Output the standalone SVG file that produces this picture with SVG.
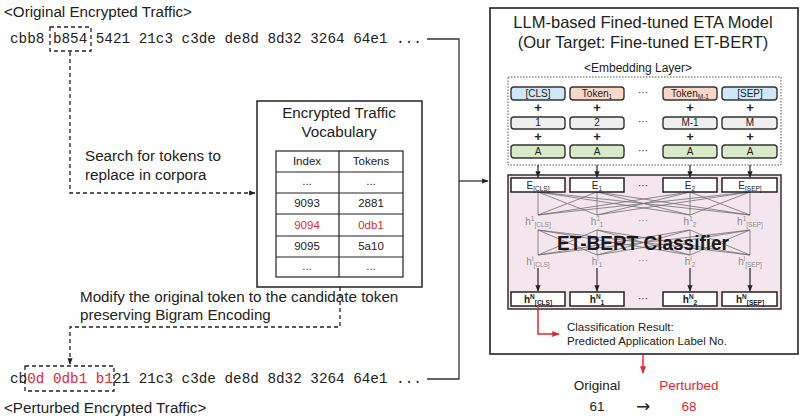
<svg xmlns="http://www.w3.org/2000/svg" width="800" height="420" viewBox="0 0 800 420">
<defs>
<style>
text{font-family:"Liberation Sans",Arial,sans-serif;fill:#222}
.mono{font-family:"Liberation Mono","Courier New",monospace;font-size:14.3px}
.lbl{font-size:15.2px}
.t11{font-size:11.5px}
.t10{font-size:10px}
.mid{text-anchor:middle}
.red{fill:#e02a36}
.box{fill:#fff;stroke:#222;stroke-width:1.5}
.emb{stroke:#333;stroke-width:1.4}
.blue{fill:#cfe8f5}.peach{fill:#f9d8c8}.gray{fill:#efefef}.green{fill:#d8eac8}
.dash{fill:none;stroke:#222;stroke-width:1.3;stroke-dasharray:4 3}
.solid{fill:none;stroke:#333;stroke-width:1.3}
.mesh{stroke:#6e6e6e;stroke-width:0.8}
.hl{fill:#8a8a8a;font-size:10px}
</style>
<marker id="ah" viewBox="0 0 10 10" refX="9" refY="5" markerWidth="5" markerHeight="5" orient="auto"><path d="M0,1 L10,5 L0,9 z" fill="#222"/></marker>
<marker id="ahr" viewBox="0 0 10 10" refX="9" refY="5" markerWidth="5" markerHeight="5" orient="auto"><path d="M0,1 L10,5 L0,9 z" fill="#e02a36"/></marker>
</defs>
<rect width="800" height="420" fill="#fff"/>

<g id="original-traffic">
<text x="4" y="17" class="lbl">&lt;Original Encrypted Traffic&gt;</text>
<text x="10" y="43" class="mono">cbb8 b854 5421 21c3 c3de de8d 8d32 3264 64e1 ...</text>
<rect x="50" y="27" width="41" height="24" class="dash"/>
</g>

<g id="perturbed-traffic">
<text x="10" y="383" class="mono">cb<tspan class="red">0d 0db1 b1</tspan>21 21c3 c3de de8d 8d32 3264 64e1 ...</text>
<rect x="25" y="366" width="89" height="25" class="dash"/>
<text x="4" y="413" class="lbl">&lt;Perturbed Encrypted Traffic&gt;</text>
</g>

<g id="vocabulary">
<rect x="257" y="101" width="165" height="186" class="box"/>
<text x="339" y="118" class="lbl mid">Encrypted Traffic</text>
<text x="339" y="137" class="lbl mid">Vocabulary</text>
<g fill="none" stroke="#222" stroke-width="1.2">
<rect x="276" y="151" width="127" height="126"/>
<line x1="339" y1="151" x2="339" y2="277"/>
<line x1="276" y1="172" x2="403" y2="172"/>
<line x1="276" y1="193" x2="403" y2="193"/>
<line x1="276" y1="214" x2="403" y2="214"/>
<line x1="276" y1="236" x2="403" y2="236"/>
<line x1="276" y1="257" x2="403" y2="257"/>
</g>
<g class="t11 mid">
<text x="307" y="165">Index</text><text x="371" y="165">Tokens</text>
<text x="307" y="185">...</text><text x="371" y="185">...</text>
<text x="307" y="207">9093</text><text x="371" y="207">2881</text>
<text x="307" y="229" class="red">9094</text><text x="371" y="229" class="red">0db1</text>
<text x="307" y="250">9095</text><text x="371" y="250">5a10</text>
<text x="307" y="270">...</text><text x="371" y="270">...</text>
</g>
</g>

<g id="search-label">
<text x="85" y="161" class="lbl">Search for tokens to</text>
<text x="85" y="180" class="lbl">replace in corpora</text>
</g>
<g id="modify-label">
<text x="80" y="302" class="lbl">Modify the original token to the candidate token</text>
<text x="80" y="320" class="lbl">preserving Bigram Encoding</text>
</g>

<g id="llm-model">
<rect x="490" y="8" width="308" height="346" fill="#fff" stroke="#222" stroke-width="1.6"/>
<text x="643" y="28" class="mid" style="font-size:16.5px">LLM-based Fined-tuned ETA Model</text>
<text x="643" y="48" class="mid" style="font-size:16.5px">(Our Target: Fine-tuned ET-BERT)</text>
</g>

<g id="embedding-layer">
<text x="638" y="72" class="mid" style="font-size:12px">&lt;Embedding Layer&gt;</text>
<rect x="508" y="77" width="273" height="88" fill="none" stroke="#555" stroke-width="1" stroke-dasharray="1.5 1.5"/>
<rect x="511" y="87" width="54" height="13" rx="3" class="emb blue"/>
<rect x="570" y="87" width="54" height="13" rx="3" class="emb peach"/>
<rect x="663" y="87" width="54" height="13" rx="3" class="emb peach"/>
<rect x="722" y="87" width="55" height="13" rx="3" class="emb blue"/>
<rect x="511" y="117" width="54" height="12" rx="3" class="emb gray"/>
<rect x="570" y="117" width="54" height="12" rx="3" class="emb gray"/>
<rect x="663" y="117" width="54" height="12" rx="3" class="emb gray"/>
<rect x="722" y="117" width="55" height="12" rx="3" class="emb gray"/>
<rect x="511" y="145" width="54" height="13" rx="3" class="emb green"/>
<rect x="570" y="145" width="54" height="13" rx="3" class="emb green"/>
<rect x="663" y="145" width="54" height="13" rx="3" class="emb green"/>
<rect x="722" y="145" width="55" height="13" rx="3" class="emb green"/>
<g class="t10 mid">
<text x="538" y="97">[CLS]</text>
<text x="597" y="97">Token<tspan dy="2" style="font-size:6.5px">1</tspan></text>
<text x="643" y="96">···</text>
<text x="690" y="97">Token<tspan dy="2" style="font-size:6.5px">M-1</tspan></text>
<text x="750" y="97">[SEP]</text>
<text x="538" y="126">1</text><text x="597" y="126">2</text><text x="643" y="125">···</text><text x="690" y="126">M-1</text><text x="750" y="126">M</text>
<text x="538" y="155">A</text><text x="597" y="155">A</text><text x="643" y="154">···</text><text x="690" y="155">A</text><text x="750" y="155">A</text>
</g>
<g class="mid" style="font-size:13px;font-weight:bold">
<text x="538" y="112">+</text><text x="597" y="112">+</text><text x="690" y="112">+</text><text x="750" y="112">+</text>
<text x="538" y="141">+</text><text x="597" y="141">+</text><text x="690" y="141">+</text><text x="750" y="141">+</text>
</g>
</g>

<g id="et-bert-classifier">
<rect x="508" y="175" width="273" height="134" fill="#f5e6ee" stroke="#333" stroke-width="1.5"/>
<g class="mesh">
<line x1="538" y1="192" x2="538" y2="215"/><line x1="538" y1="192" x2="597" y2="215"/><line x1="538" y1="192" x2="690" y2="215"/><line x1="538" y1="192" x2="750" y2="215"/>
<line x1="597" y1="192" x2="538" y2="215"/><line x1="597" y1="192" x2="597" y2="215"/><line x1="597" y1="192" x2="690" y2="215"/><line x1="597" y1="192" x2="750" y2="215"/>
<line x1="690" y1="192" x2="538" y2="215"/><line x1="690" y1="192" x2="597" y2="215"/><line x1="690" y1="192" x2="690" y2="215"/><line x1="690" y1="192" x2="750" y2="215"/>
<line x1="750" y1="192" x2="538" y2="215"/><line x1="750" y1="192" x2="597" y2="215"/><line x1="750" y1="192" x2="690" y2="215"/><line x1="750" y1="192" x2="750" y2="215"/>
<line x1="538" y1="230" x2="538" y2="255"/><line x1="538" y1="230" x2="597" y2="255"/><line x1="538" y1="230" x2="690" y2="255"/><line x1="538" y1="230" x2="750" y2="255"/>
<line x1="597" y1="230" x2="538" y2="255"/><line x1="597" y1="230" x2="597" y2="255"/><line x1="597" y1="230" x2="690" y2="255"/><line x1="597" y1="230" x2="750" y2="255"/>
<line x1="690" y1="230" x2="538" y2="255"/><line x1="690" y1="230" x2="597" y2="255"/><line x1="690" y1="230" x2="690" y2="255"/><line x1="690" y1="230" x2="750" y2="255"/>
<line x1="750" y1="230" x2="538" y2="255"/><line x1="750" y1="230" x2="597" y2="255"/><line x1="750" y1="230" x2="690" y2="255"/><line x1="750" y1="230" x2="750" y2="255"/>
</g>
<rect x="511" y="178" width="54" height="14" class="box"/>
<rect x="570" y="178" width="54" height="14" class="box"/>
<rect x="663" y="178" width="54" height="14" class="box"/>
<rect x="722" y="178" width="55" height="14" class="box"/>
<rect x="511" y="292" width="54" height="14" class="box"/>
<rect x="570" y="292" width="54" height="14" class="box"/>
<rect x="663" y="292" width="54" height="14" class="box"/>
<rect x="722" y="292" width="55" height="14" class="box"/>
<g class="t10 mid">
<text x="538" y="189">E<tspan dy="2" style="font-size:6.5px">[CLS]</tspan></text>
<text x="597" y="189">E<tspan dy="2" style="font-size:6.5px">1</tspan></text>
<text x="643" y="189">···</text>
<text x="690" y="189">E<tspan dy="2" style="font-size:6.5px">2</tspan></text>
<text x="750" y="189">E<tspan dy="2" style="font-size:6.5px">[SEP]</tspan></text>
<text x="538" y="303" font-weight="bold">h<tspan dy="-4" style="font-size:6.5px">N</tspan><tspan dy="6" style="font-size:6.5px">[CLS]</tspan></text>
<text x="597" y="303" font-weight="bold">h<tspan dy="-4" style="font-size:6.5px">N</tspan><tspan dy="6" style="font-size:6.5px">1</tspan></text>
<text x="643" y="302">···</text>
<text x="690" y="303" font-weight="bold">h<tspan dy="-4" style="font-size:6.5px">N</tspan><tspan dy="6" style="font-size:6.5px">2</tspan></text>
<text x="750" y="303" font-weight="bold">h<tspan dy="-4" style="font-size:6.5px">N</tspan><tspan dy="6" style="font-size:6.5px">[SEP]</tspan></text>
</g>
<g class="mid">
<text x="538" y="225" class="hl">h<tspan dy="-4" style="font-size:6.5px">1</tspan><tspan dy="6" style="font-size:6.5px">[CLS]</tspan></text>
<text x="597" y="225" class="hl">h<tspan dy="-4" style="font-size:6.5px">1</tspan><tspan dy="6" style="font-size:6.5px">1</tspan></text>
<text x="643" y="224" class="hl">···</text>
<text x="690" y="225" class="hl">h<tspan dy="-4" style="font-size:6.5px">1</tspan><tspan dy="6" style="font-size:6.5px">2</tspan></text>
<text x="750" y="225" class="hl">h<tspan dy="-4" style="font-size:6.5px">1</tspan><tspan dy="6" style="font-size:6.5px">[SEP]</tspan></text>
<text x="538" y="265" class="hl">h<tspan dy="-4" style="font-size:6.5px">l</tspan><tspan dy="6" style="font-size:6.5px">[CLS]</tspan></text>
<text x="597" y="265" class="hl">h<tspan dy="-4" style="font-size:6.5px">l</tspan><tspan dy="6" style="font-size:6.5px">1</tspan></text>
<text x="643" y="264" class="hl">···</text>
<text x="690" y="265" class="hl">h<tspan dy="-4" style="font-size:6.5px">l</tspan><tspan dy="6" style="font-size:6.5px">2</tspan></text>
<text x="750" y="265" class="hl">h<tspan dy="-4" style="font-size:6.5px">l</tspan><tspan dy="6" style="font-size:6.5px">[SEP]</tspan></text>
</g>
<text x="643" y="250" class="mid" style="font-size:21px;font-weight:bold;fill:#1a1a1a" textLength="172" lengthAdjust="spacingAndGlyphs">ET-BERT Classifier</text>
</g>

<g id="classification-result">
<text x="567" y="331" class="t11">Classification Result:</text>
<text x="567" y="345" class="t11">Predicted Application Label No.</text>
</g>

<g id="prediction-comparison">
<text x="597" y="390" class="mid" style="font-size:13.5px">Original</text>
<text x="689" y="390" class="mid red" style="font-size:13.5px">Perturbed</text>
<text x="597" y="411" class="mid" style="font-size:13.5px">61</text>
<text x="643" y="412" class="mid" style="font-size:17px;font-family:'DejaVu Sans',sans-serif">→</text>
<text x="689" y="411" class="mid red" style="font-size:13.5px">68</text>
</g>

<g id="connectors">
<path d="M70,52 V193 H255" class="dash" marker-end="url(#ah)"/>
<path d="M340,287 V327 H70 V364" class="dash" marker-end="url(#ah)"/>
<path d="M427,39 H459 V379 H427" class="solid"/>
<path d="M459,181 H488" class="solid" marker-end="url(#ah)"/>
<g class="solid">
<line x1="538" y1="165" x2="538" y2="177" marker-end="url(#ah)"/>
<line x1="597" y1="165" x2="597" y2="177" marker-end="url(#ah)"/>
<line x1="690" y1="165" x2="690" y2="177" marker-end="url(#ah)"/>
<line x1="750" y1="165" x2="750" y2="177" marker-end="url(#ah)"/>
<line x1="538" y1="268" x2="538" y2="291" marker-end="url(#ah)"/>
<line x1="597" y1="268" x2="597" y2="291" marker-end="url(#ah)"/>
<line x1="690" y1="268" x2="690" y2="291" marker-end="url(#ah)"/>
<line x1="750" y1="268" x2="750" y2="291" marker-end="url(#ah)"/>
</g>
<path d="M538,306 V334 H559" fill="none" stroke="#e02a36" stroke-width="1.5" marker-end="url(#ahr)"/>
<path d="M643,355 V373" fill="none" stroke="#e02a36" stroke-width="1.5" marker-end="url(#ahr)"/>
</g>
</svg>
